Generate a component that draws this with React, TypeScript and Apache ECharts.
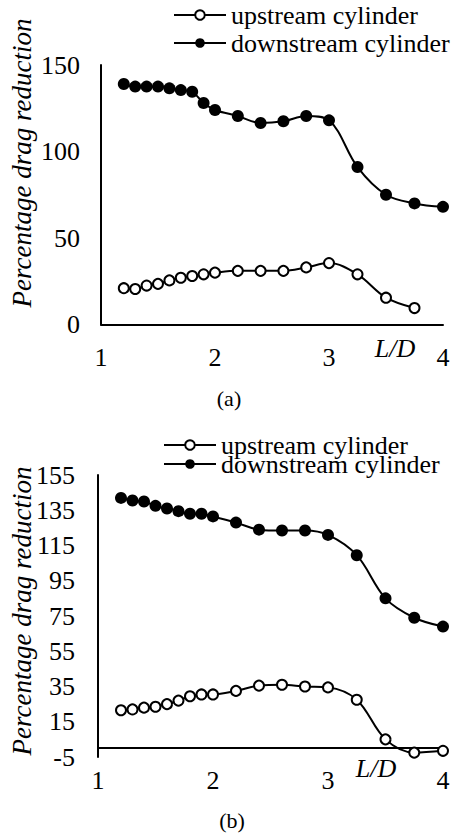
import React, { useEffect, useRef } from "react";
import * as echarts from "echarts";

// L/D spacing ratios shared by both panels
const ratiosA = [1.2, 1.3, 1.4, 1.5, 1.6, 1.7, 1.8, 1.9, 2.0, 2.2, 2.4, 2.6, 2.8, 3.0, 3.25, 3.5, 3.75, 4.0];
const ratiosB = [1.2, 1.3, 1.4, 1.5, 1.6, 1.7, 1.8, 1.9, 2.0, 2.2, 2.4, 2.6, 2.8, 3.0, 3.25, 3.5, 3.75, 4.0];

// Panel (a): percentage drag reduction
const upstreamA = [21, 20.5, 22.5, 23.5, 25.5, 27, 28, 29, 30, 31, 31, 31, 33, 35.5, 29, 15.5, 9.5];
const downstreamA = [139, 137.5, 137.5, 137.5, 136.5, 135.5, 134.5, 128, 124, 120.5, 116.5, 117.5, 120.5, 118, 91, 75, 70, 68];

// Panel (b): percentage drag reduction
const upstreamB = [21.5, 22, 23, 23.5, 25, 27, 29.5, 30.5, 30.5, 32.5, 35.5, 36, 35, 34.5, 27.5, 5, -2.5, -1.5];
const downstreamB = [142, 140.5, 140, 137.5, 136, 134.5, 133, 133, 131.5, 128, 124, 123.5, 123.5, 121, 109.5, 85, 74, 69];

const yTicksA = { min: 0, max: 150, interval: 50 };
const yTicksB = { min: -5, max: 155, interval: 20 };

const SERIF = "Liberation Serif";
const NAME_UP = "upstream cylinder";
const NAME_DOWN = "downstream cylinder";

function pairs(xs: number[], ys: number[]) {
  return ys.map((y, i) => [xs[i], y]);
}

export default function App() {
  const ref = useRef<HTMLDivElement>(null);

  useEffect(() => {
    if (!ref.current) return;
    const chart = echarts.init(ref.current, undefined, { renderer: "svg" });

    const axisLine = { show: true, onZero: true, lineStyle: { color: "#000", width: 2 } };
    const labelStyle = { color: "#000", fontFamily: SERIF, fontSize: 26 };

    const xAxisBase = {
      type: "value" as const,
      min: 1,
      max: 4,
      interval: 1,
      axisLine,
      axisTick: { show: false },
      splitLine: { show: false },
    };
    const yAxisBase = {
      type: "value" as const,
      axisLine: { show: true, lineStyle: { color: "#000", width: 2 } },
      axisTick: { show: false },
      splitLine: { show: false },
    };

    const upStyle = {
      type: "line" as const,
      name: NAME_UP,
      symbol: "emptyCircle",
      symbolSize: 10,
      smooth: 0.35,
      lineStyle: { color: "#000", width: 2 },
      itemStyle: { color: "#000", borderWidth: 2 },
    };
    const downStyle = {
      type: "line" as const,
      name: NAME_DOWN,
      symbol: "circle",
      symbolSize: 12,
      smooth: 0.35,
      lineStyle: { color: "#000", width: 2 },
      itemStyle: { color: "#000" },
    };

    const legendBase = {
      orient: "horizontal" as const,
      padding: 0,
      itemWidth: 52,
      itemHeight: 12,
      itemGap: 5,
      selectedMode: false,
      textStyle: { color: "#000", fontFamily: SERIF, fontSize: 26 },
    };

    const textEl = (text: string, x: number, y: number, size: number, italic: boolean, rotation = 0) => ({
      type: "text",
      x,
      y,
      rotation,
      style: {
        text,
        fill: "#000",
        fontFamily: SERIF,
        fontSize: size,
        fontStyle: italic ? "italic" : "normal",
        align: "center",
        verticalAlign: "middle",
      },
    });

    chart.setOption({
      animation: false,
      backgroundColor: "#fff",
      grid: [
        { left: 101, top: 65, width: 342, height: 259.5 },
        { left: 98, top: 475, width: 345, height: 282 },
      ],
      xAxis: [
        { ...xAxisBase, gridIndex: 0, axisLabel: { ...labelStyle, margin: 20 } },
        { ...xAxisBase, gridIndex: 1, axisLabel: { ...labelStyle, margin: 10 } },
      ],
      yAxis: [
        { ...yAxisBase, gridIndex: 0, ...yTicksA, axisLabel: { ...labelStyle, margin: 21 } },
        { ...yAxisBase, gridIndex: 1, ...yTicksB, axisLabel: { ...labelStyle, margin: 23 } },
      ],
      legend: [
        { ...legendBase, data: [NAME_UP], left: 173, top: 2 },
        { ...legendBase, data: [NAME_DOWN], left: 173, top: 30 },
        { ...legendBase, data: [NAME_UP], left: 163, top: 432 },
        { ...legendBase, data: [NAME_DOWN], left: 163, top: 451 },
      ],
      graphic: [
        textEl("Percentage drag reduction", 22, 163, 27, true, Math.PI / 2),
        textEl("Percentage drag reduction", 22, 611, 27, true, Math.PI / 2),
        textEl("L/D", 395, 348, 26, true),
        textEl("L/D", 376, 768, 26, true),
        textEl("(a)", 229, 398, 22, false),
        textEl("(b)", 232, 820, 22, false),
      ],
      series: [
        { ...upStyle, xAxisIndex: 0, yAxisIndex: 0, data: pairs(ratiosA, upstreamA) },
        { ...downStyle, xAxisIndex: 0, yAxisIndex: 0, data: pairs(ratiosA, downstreamA) },
        { ...upStyle, xAxisIndex: 1, yAxisIndex: 1, data: pairs(ratiosB, upstreamB) },
        { ...downStyle, xAxisIndex: 1, yAxisIndex: 1, data: pairs(ratiosB, downstreamB) },
      ],
    });

    return () => chart.dispose();
  }, []);

  return (
    <div
      ref={ref}
      style={{ position: "absolute", left: 0, top: 0, width: 458, height: 836, background: "#fff" }}
    />
  );
}
